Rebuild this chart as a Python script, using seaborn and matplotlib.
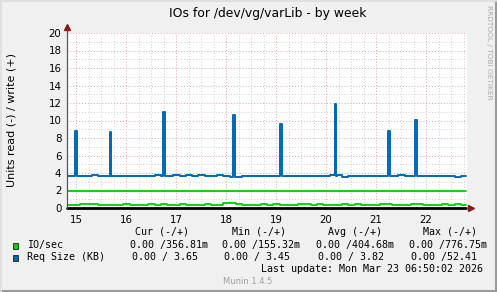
import numpy as np
import pandas as pd
import matplotlib
matplotlib.use("Agg")
import matplotlib.pyplot as plt
from matplotlib.lines import Line2D
from matplotlib.patches import Rectangle
import seaborn as sns

# ---------------- data ----------------
title = "IOs for /dev/vg/varLib - by week"
ylabel = "Units read (-) / write (+)"
day_ticks = [15, 16, 17, 18, 19, 20, 21, 22]
y_ticks = [0, 2, 4, 6, 8, 10, 12, 14, 16, 18, 20]

t_start = 14.82          # first sample (day of month)
t_step = 0.125           # 3-hour samples

req_size_base = [
    3.66, 3.66, 3.70, 3.66, 3.75, 3.66, 3.62, 3.66,
    3.66, 3.70, 3.66, 3.62, 3.66, 3.70, 3.75, 3.70,
    3.70, 3.72, 3.70, 3.75, 3.70, 3.72, 3.70, 3.68,
    3.72, 3.66, 3.50, 3.50, 3.66, 3.70, 3.66, 3.70,
    3.66, 3.70, 3.62, 3.66, 3.70, 3.66, 3.66, 3.62,
    3.70, 3.66, 3.72, 3.68, 3.60, 3.66, 3.70, 3.66,
    3.66, 3.70, 3.62, 3.70, 3.66, 3.72, 3.66, 3.70,
    3.66, 3.70, 3.66, 3.66, 3.70, 3.66, 3.58, 3.66,
]
io_sec_base = [
    0.36, 0.38, 0.48, 0.42, 0.50, 0.38, 0.36, 0.40,
    0.38, 0.45, 0.36, 0.30, 0.38, 0.42, 0.38, 0.45,
    0.40, 0.38, 0.45, 0.38, 0.36, 0.40, 0.45, 0.38,
    0.40, 0.53, 0.53, 0.45, 0.38, 0.40, 0.36, 0.42,
    0.38, 0.45, 0.40, 0.36, 0.38, 0.42, 0.45, 0.38,
    0.48, 0.40, 0.30, 0.38, 0.42, 0.38, 0.45, 0.40,
    0.38, 0.36, 0.42, 0.45, 0.38, 0.40, 0.38, 0.42,
    0.45, 0.38, 0.40, 0.36, 0.42, 0.38, 0.45, 0.40,
]
io_sec_level = 1.95      # flat green line

spike_days = [14.986, 15.68, 16.73, 18.15, 19.07, 20.17, 21.24, 21.78]
spike_values = [8.8, 8.7, 11.0, 10.6, 9.6, 11.9, 8.8, 10.1]
spike_width = 0.04

legend_cols = ["Cur (-/+)", "Min (-/+)", "Avg (-/+)", "Max (-/+)"]
io_neg = ["0.00", "0.00", "0.00", "0.00"]
io_pos = ["356.81m", "155.32m", "404.68m", "776.75m"]
req_neg = ["0.00", "0.00", "0.00", "0.00"]
req_pos = [" 3.65", " 3.45", " 3.82", "52.41"]
last_update = "Last update: Mon Mar 23 06:50:02 2026"
munin_ver = "Munin 1.4.5"

GREEN = "#00CC00"
BLUE = "#0066B3"

# ---------------- build frames ----------------
n = len(req_size_base)
t = t_start + t_step * np.arange(n + 1)
t_end = 22.79

req_t = list(t[:n]) + [t_end]
req_v = list(req_size_base) + [req_size_base[-1]]
for d, v in zip(spike_days, spike_values):
    k = int((d - t_start) // t_step)
    base = req_size_base[min(k, n - 1)]
    req_t += [d, d + spike_width]
    req_v += [v, base]
req_df = pd.DataFrame({"t": req_t, "v": req_v}).sort_values("t", kind="stable")

io_df = pd.DataFrame({"t": list(t[:n]) + [t_end],
                      "v": list(io_sec_base) + [io_sec_base[-1]]})
lvl_df = pd.DataFrame({"t": [t_start, t_end], "v": [io_sec_level, io_sec_level]})
zero_df = pd.DataFrame({"t": [t_start, t_end], "v": [0, 0]})

# ---------------- figure ----------------
sns.set_theme(style="white")
plt.rcParams["font.family"] = ["DejaVu Sans"]

W, H = 497, 292
fig = plt.figure(figsize=(W / 100, H / 100), dpi=100)
fig.patch.set_facecolor("#F0F0F0")

def fx(px):
    return px / W

def fy(py):
    return 1 - py / H

L, R, T, B = 67, 467, 33, 208
ax = fig.add_axes([fx(L), fy(B), (R - L) / W, (B - T) / H])
ax.set_facecolor("white")
ax.set_xlim(t_start, t_start + 8.0)
ax.set_ylim(0, 20)

# grid
minor_x = np.arange(15.0, 22.9, 0.25)
for x in minor_x:
    if abs(x - round(x)) > 1e-6:
        ax.axvline(x, color="#CFCFCF", lw=0.7, ls=(0, (1, 2)), zorder=0)
for y in range(1, 20, 2):
    ax.axhline(y, color="#CFCFCF", lw=0.7, ls=(0, (1, 2)), zorder=0)
for x in day_ticks:
    ax.axvline(x, color="#E8A0A0", lw=0.7, ls=(0, (1, 2)), zorder=0.5)
for y in y_ticks[1:]:
    ax.axhline(y, color="#E8A0A0", lw=0.7, ls=(0, (1, 2)), zorder=0.5)

sns.lineplot(data=lvl_df, x="t", y="v", ax=ax, color=GREEN, lw=1.3,
             estimator=None, sort=False)
sns.lineplot(data=io_df, x="t", y="v", ax=ax, color=GREEN, lw=1.3,
             estimator=None, sort=False, drawstyle="steps-post")
sns.lineplot(data=req_df, x="t", y="v", ax=ax, color=BLUE, lw=1.4,
             estimator=None, sort=False, drawstyle="steps-post")
sns.lineplot(data=zero_df, x="t", y="v", ax=ax, color="black", lw=2.0,
             estimator=None, sort=False)
ax.lines[-1].set_clip_on(False)

for s in ax.spines.values():
    s.set_visible(False)

# axes with arrows
ax.plot([0, 0], [0, 1.03], transform=ax.transAxes, color="#555555", lw=0.9,
        clip_on=False, zorder=5)
ax.plot([0], [1.035], transform=ax.transAxes, marker="^", ms=4.5,
        color="#8B1A1A", clip_on=False, zorder=6)
ax.plot([1.0, 1.0075], [0, 0], transform=ax.transAxes, color="#555555",
        lw=0.9, clip_on=False, zorder=5)
ax.plot([1.01], [0], transform=ax.transAxes, marker=">", ms=4.5,
        color="#8B1A1A", clip_on=False, zorder=6)

ax.set_xticks(day_ticks)
ax.set_xticklabels([str(d) for d in day_ticks])
ax.set_yticks(y_ticks)
ax.set_yticklabels([str(v) for v in y_ticks])
ax.tick_params(axis="both", labelsize=7.4, colors="#000000", length=2,
               width=0.7, pad=2, direction="out")
ax.tick_params(axis="x", color="#E8A0A0", pad=3)
ax.tick_params(axis="y", color="#E8A0A0")
ax.set_xlabel("")
ax.set_ylabel("")

fig.text(fx(12), fy(120), ylabel, rotation=90, ha="center", va="center",
         fontsize=8, color="black")
fig.text(fx(267.5), fy(14), title, ha="center", va="center", fontsize=8.9,
         color="black")
fig.text(fx(489), fy(52), "RRDTOOL / TOBI OETIKER", rotation=270,
         ha="center", va="center", fontsize=5.3, color="#AAAAAA")

# frame
fig.add_artist(Line2D([fx(0), fx(W)], [fy(H - 1.5), fy(H - 1.5)], color="#9A9A9A", lw=2.2))
fig.add_artist(Line2D([fx(W - 1.5), fx(W - 1.5)], [fy(0), fy(H)], color="#9A9A9A", lw=2.2))
fig.add_artist(Line2D([fx(0), fx(W)], [fy(0.5), fy(0.5)], color="#DDDDDD", lw=1.2))
fig.add_artist(Line2D([fx(0.5), fx(0.5)], [fy(0), fy(H)], color="#DDDDDD", lw=1.2))

# legend
mono = dict(family="DejaVu Sans Mono", fontsize=7.2, color="black", va="center")
col_hdr_x = [134.7, 231.7, 327.7, 423.3]
col_val_x = [131.7, 224.3, 317.7, 410.7]
for hx, lab in zip(col_hdr_x, legend_cols):
    fig.text(fx(hx), fy(232), lab, ha="left", **mono)

fig.add_artist(Rectangle((fx(12.5), fy(248.5)), 5.5 / W, 5.5 / H,
                         facecolor=GREEN, edgecolor="#222222", lw=0.6))
fig.add_artist(Rectangle((fx(12.5), fy(260.5)), 5.5 / W, 5.5 / H,
                         facecolor=BLUE, edgecolor="#222222", lw=0.6))
fig.text(fx(26.7), fy(245), "IO/sec", ha="left", **mono)
fig.text(fx(26.7), fy(257), "Req Size (KB)", ha="left", **mono)

for vx, a, b in zip(col_val_x, io_neg, io_pos):
    fig.text(fx(vx - 2), fy(245), a + " /" + b, ha="left", **mono)
for vx, a, b in zip(col_val_x, req_neg, req_pos):
    fig.text(fx(vx), fy(257), a + " /" + b, ha="left", **mono)

fig.text(fx(483.3), fy(268.7), last_update, ha="right", **mono)
fig.text(fx(248), fy(281), munin_ver, ha="center", va="center",
         fontsize=6, color="#A0A0A0")

fig.savefig("out.png", dpi=100, facecolor=fig.get_facecolor())
